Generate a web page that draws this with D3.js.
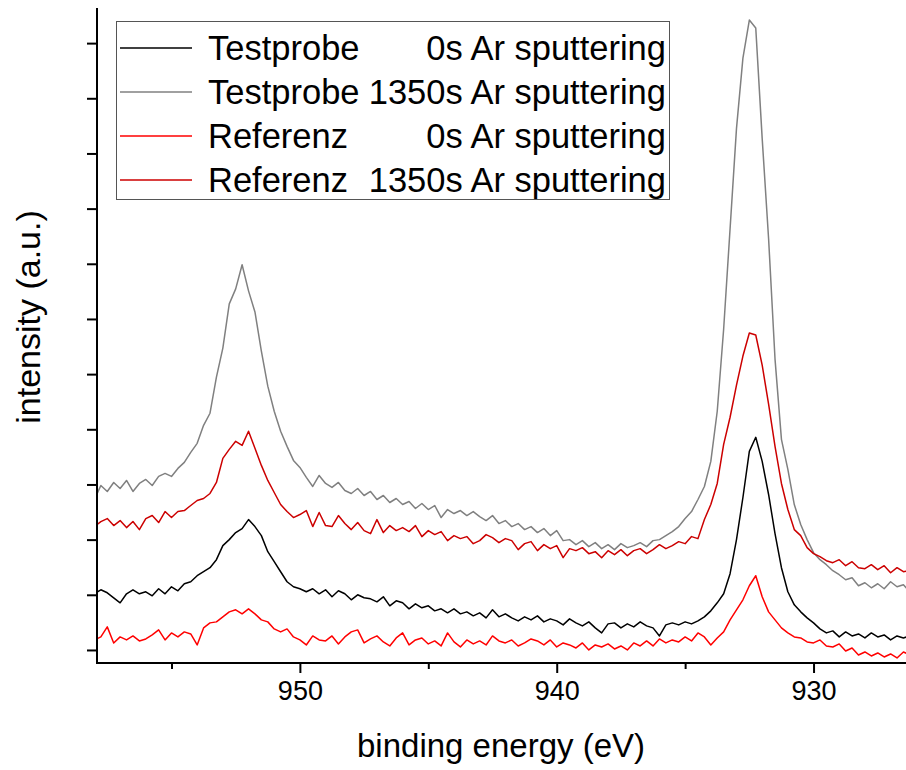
<!DOCTYPE html>
<html>
<head>
<meta charset="utf-8">
<script src="https://cdn.jsdelivr.net/npm/d3@7"></script>
<style>
  body { margin: 0; background: #fff; }
  text { font-family: Arial, "Liberation Sans", sans-serif; fill: #000; }
</style>
</head>
<body>
<div id="chart"></div>
<script>
// binding energy grid (eV), 0.25 eV steps
var energy = [958.00,957.75,957.50,957.25,957.00,956.75,956.50,956.25,956.00,955.75,955.50,955.25,955.00,954.75,954.50,954.25,
  954.00,953.75,953.50,953.25,953.00,952.75,952.50,952.25,952.00,951.75,951.50,951.25,951.00,950.75,950.50,950.25,
  950.00,949.75,949.50,949.25,949.00,948.75,948.50,948.25,948.00,947.75,947.50,947.25,947.00,946.75,946.50,946.25,
  946.00,945.75,945.50,945.25,945.00,944.75,944.50,944.25,944.00,943.75,943.50,943.25,943.00,942.75,942.50,942.25,
  942.00,941.75,941.50,941.25,941.00,940.75,940.50,940.25,940.00,939.75,939.50,939.25,939.00,938.75,938.50,938.25,
  938.00,937.75,937.50,937.25,937.00,936.75,936.50,936.25,936.00,935.75,935.50,935.25,935.00,934.75,934.50,934.25,
  934.00,933.75,933.50,933.25,933.00,932.75,932.50,932.25,932.00,931.75,931.50,931.25,931.00,930.75,930.50,930.25,
  930.00,929.75,929.50,929.25,929.00,928.75,928.50,928.25,928.00,927.75,927.50,927.25,927.00,926.75,926.50,926.25];

// intensities (a.u.)
var testprobe0 = [56,60,57,52,47,56,60,56,58,54,61,56,63,59,66,68,74,78,82,90,104,110,117,121,130,123,114,98,88,78,68,63,
  61,58,61,56,60,53,59,56,50,55,52,51,48,53,44,49,47,41,46,42,44,39,41,37,41,36,38,34,37,32,40,33,
  36,32,29,33,30,34,28,31,29,25,31,27,24,28,22,17,26,27,22,26,23,28,24,22,14,25,27,25,28,26,29,33,
  39,47,56,76,110,152,198,212,188,155,116,82,58,45,38,32,27,21,17,19,13,18,14,16,12,17,13,15,10,14,12,14];

var testprobe1350 = [150,164,158,167,161,169,158,166,170,164,173,176,173,181,187,197,206,224,236,272,301,345,360,384,358,337,298,263,238,218,203,189,
  182,172,163,174,166,162,167,159,156,161,154,158,150,154,147,151,145,148,141,146,140,144,132,140,136,139,134,138,133,129,134,126,
  129,123,126,120,123,117,121,114,119,109,110,105,109,103,107,101,105,100,106,102,104,107,103,109,110,114,118,123,131,138,150,163,
  188,238,320,420,520,590,628,620,510,410,290,210,180,145,125,110,97,90,85,79,75,70,72,64,67,62,66,61,68,63,65,58];

var referenz0 = [10,13,23,7,13,10,14,9,11,15,20,10,17,13,18,16,5,22,27,28,33,38,40,36,41,36,30,28,21,18,21,13,
  10,5,14,10,9,14,6,13,18,20,7,11,14,8,4,12,17,5,10,12,6,9,4,17,8,3,10,6,9,5,14,9,
  7,10,4,7,11,9,5,10,3,7,5,2,7,0,5,3,6,1,4,0,7,4,9,4,11,7,10,8,13,9,17,13,
  5,12,18,30,40,50,64,74,53,38,30,22,17,13,12,8,7,10,4,3,6,-1,2,-5,-2,-6,-3,-7,-4,-8,-2,-5];

var referenz1350 = [123,128,131,124,129,122,128,120,131,134,127,138,132,138,139,144,149,151,156,167,191,200,208,204,218,201,184,169,157,145,138,132,
  135,139,123,137,124,123,134,126,120,127,119,116,130,117,124,119,122,118,124,113,119,115,118,109,114,111,113,106,109,115,112,107,
  111,109,100,106,108,99,105,101,104,92,101,99,102,96,98,92,99,95,100,94,99,101,96,100,105,101,104,108,106,113,111,130,
  145,166,205,232,264,293,316,314,284,245,203,166,140,120,114,102,96,93,89,87,90,84,88,82,81,85,80,84,77,82,78,79];

var seriesNames = ["Testprobe", "Testprobe", "Referenz", "Referenz"];
var seriesTimes = ["0s Ar sputtering", "1350s Ar sputtering", "0s Ar sputtering", "1350s Ar sputtering"];
var seriesColors = ["#000000", "#808080", "#ff0000", "#cc0000"];
var seriesValues = [testprobe0, testprobe1350, referenz0, referenz1350];

var majorTicks = [950, 940, 930];
var minorTicks = [955, 945, 935];
var yTicks = [0, 55, 110, 165, 220, 275, 330, 385, 440, 495, 550, 605];

var width = 906, height = 770;
var plotL = 97, plotR = 906, plotT = 6, plotB = 663;

var svg = d3.select("#chart").append("svg")
    .attr("width", width)
    .attr("height", height)
    .style("background", "#fff");

var x = d3.scaleLinear().domain([957.9, 926.4]).range([plotL, plotR]);
var y = d3.scaleLinear().domain([-13, 642]).range([plotB, plotT]);

svg.append("clipPath").attr("id", "plotclip")
  .append("rect")
    .attr("x", plotL).attr("y", plotT)
    .attr("width", plotR - plotL).attr("height", plotB - plotT);

var line = d3.line()
    .x(function(d, i) { return x(energy[i]); })
    .y(function(d) { return y(d); });

var plot = svg.append("g").attr("clip-path", "url(#plotclip)");

// draw order: black, gray, dark red, red
[0, 1, 3, 2].forEach(function(k) {
  plot.append("path")
    .datum(seriesValues[k])
    .attr("fill", "none")
    .attr("stroke", seriesColors[k])
    .attr("stroke-width", 1.5)
    .attr("stroke-linejoin", "round")
    .attr("d", line);
});

// x axis
var xAxis = svg.append("g").attr("transform", "translate(0," + plotB + ")");
xAxis.call(d3.axisBottom(x).tickValues(majorTicks).tickSize(10).tickFormat(d3.format("d")));
xAxis.append("g").call(d3.axisBottom(x).tickValues(minorTicks).tickSize(6).tickFormat(""));
xAxis.selectAll(".domain").remove();
xAxis.selectAll("line").attr("stroke", "#000").attr("stroke-width", 2);
xAxis.selectAll("text")
    .attr("y", 37)
    .attr("dy", null)
    .style("font-size", "27px")
    .style("font-family", "Arial, 'Liberation Sans', sans-serif");
xAxis.append("line")
    .attr("x1", plotL - 1).attr("x2", plotR)
    .attr("stroke", "#000").attr("stroke-width", 2);

// y axis (no labels)
var yAxis = svg.append("g").attr("transform", "translate(" + plotL + ",0)");
yAxis.call(d3.axisLeft(y).tickValues(yTicks).tickSize(10).tickFormat(""));
yAxis.selectAll(".domain").remove();
yAxis.selectAll("line").attr("stroke", "#000").attr("stroke-width", 2);
yAxis.append("line")
    .attr("y1", plotT + 2).attr("y2", plotB + 1)
    .attr("stroke", "#000").attr("stroke-width", 2);

// axis titles
svg.append("text")
    .attr("x", 501)
    .attr("y", 757)
    .attr("text-anchor", "middle")
    .style("font-size", "33px")
    .text("binding energy (eV)");

svg.append("text")
    .attr("transform", "translate(40,317) rotate(-90)")
    .attr("text-anchor", "middle")
    .style("font-size", "34px")
    .text("intensity (a.u.)");

// legend
var legend = svg.append("g");
legend.append("rect")
    .attr("x", 116.5).attr("y", 21.5)
    .attr("width", 553).attr("height", 178)
    .attr("fill", "#fff")
    .attr("stroke", "#555").attr("stroke-width", 1);

seriesNames.forEach(function(name, i) {
  var cy = 48 + i * 44;
  legend.append("line")
    .attr("x1", 120).attr("x2", 192)
    .attr("y1", cy).attr("y2", cy)
    .attr("stroke", seriesColors[i]).attr("stroke-width", 1.6);
  legend.append("text")
    .attr("x", 208).attr("y", cy + 12)
    .style("font-size", "34.5px")
    .text(name);
  legend.append("text")
    .attr("x", 666).attr("y", cy + 12)
    .attr("text-anchor", "end")
    .style("font-size", "34.5px")
    .text(seriesTimes[i]);
});
</script>
</body>
</html>
